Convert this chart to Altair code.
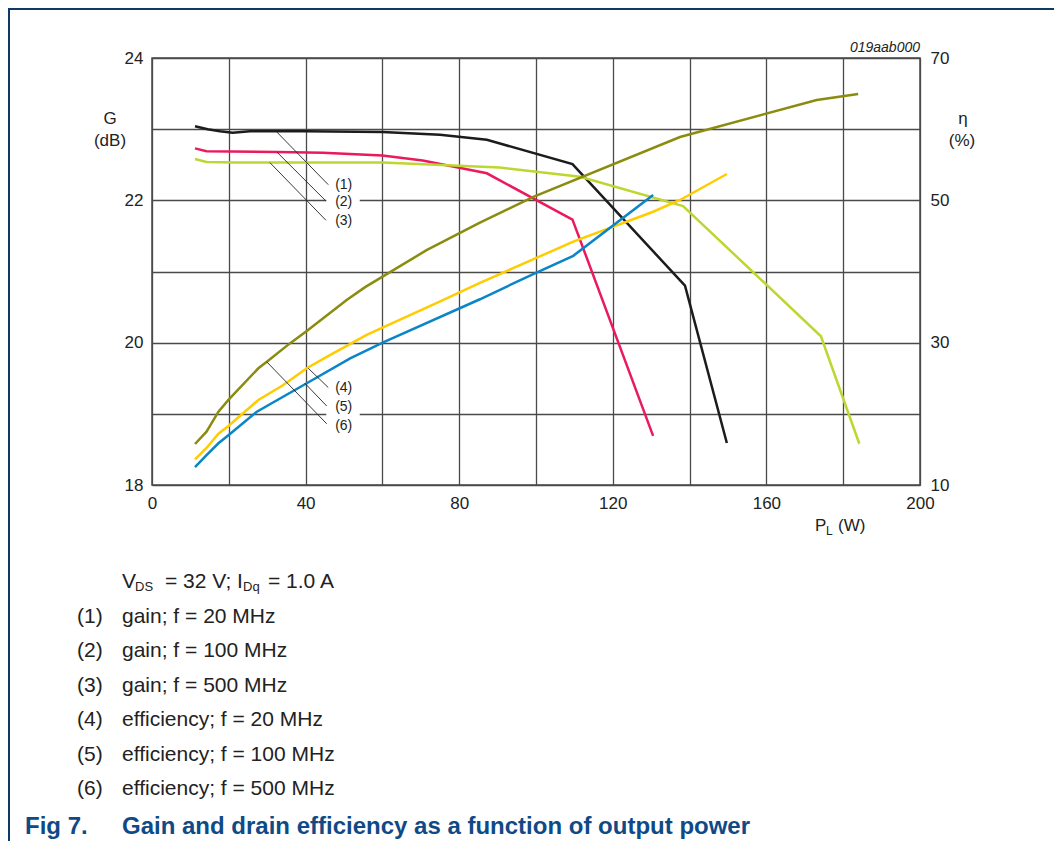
import altair as alt
import pandas as pd

FONT = "Liberation Sans"

# ---------------- data ----------------
series_names = ["gain 20 MHz", "gain 100 MHz", "gain 500 MHz",
                "eff 20 MHz", "eff 100 MHz", "eff 500 MHz"]
series_colors = ["#1c1c1c", "#ea1a5c", "#bfd630", "#ffcc00", "#0a85c8", "#8b8c0f"]

# gain curves: P_L (W) vs G (dB)
p_g20 = [11.2, 14.5, 17.7, 21, 25.5, 40, 60, 75, 87.2, 109.5, 138.8, 149.7]
g_g20 = [23.04, 23.0, 22.97, 22.95, 22.97, 22.97, 22.96, 22.92, 22.85, 22.51, 20.80, 18.59]
p_g100 = [11.2, 14.2, 32.5, 44.5, 60, 70.5, 87.2, 109.5, 130.5]
g_g100 = [22.73, 22.69, 22.68, 22.67, 22.63, 22.56, 22.38, 21.73, 18.69]
p_g500 = [11.2, 14.2, 22, 60, 90.6, 111.5, 138.3, 174.2, 184.2]
g_g500 = [22.58, 22.54, 22.53, 22.53, 22.46, 22.33, 21.92, 20.09, 18.58]

# efficiency curves: P_L (W) vs eta (%)
p_e20 = [11.2, 14.2, 17.3, 19.9, 27.7, 34.2, 40.3, 45.5, 55.9, 75.9, 85.4, 109.7, 130.5, 137.5, 149.7]
e_e20 = [13.6, 15.2, 17.2, 18.3, 21.95, 24.05, 26.4, 28.0, 31.1, 36.0, 38.4, 44.2, 48.4, 50.05, 53.7]
p_e100 = [11.2, 14.2, 17.3, 19.9, 27.3, 40.3, 51.6, 60.2, 85.4, 99.7, 109.7, 130.5]
e_e100 = [12.5, 14.2, 15.86, 17.0, 20.3, 24.3, 27.8, 30.05, 36.1, 39.75, 42.2, 50.75]
p_e500 = [11.2, 14.2, 17.3, 19.9, 27.7, 29.9, 35.9, 40.3, 50.7, 55.5, 71.5, 85.4, 99.3, 137.5, 173.1, 183.9]
e_e500 = [15.76, 17.5, 20.3, 21.95, 26.4, 27.33, 29.9, 31.64, 36.0, 37.8, 43.0, 46.86, 50.5, 58.9, 64.1, 64.95]

# curve labels with leader lines (in P, G units)
lead_labels = ["(1)", "(2)", "(3)", "(4)", "(5)", "(6)"]
lead_p1 = [32.5, 32.5, 30.7, 40.7, 39.8, 29.9]
lead_g1 = [22.96, 22.68, 22.53, 19.64, 19.43, 19.73]
lead_p2 = [45.9, 45.3, 45.3, 45.9, 45.5, 45.5]
lead_g2 = [22.22, 21.99, 21.72, 19.37, 19.11, 18.86]
label_p = [47.7] * 6
label_g = [22.22, 21.98, 21.71, 19.36, 19.10, 18.83]

# ticks
x_ticks = list(range(0, 201, 20))
g_ticks = [18, 19, 20, 21, 22, 23, 24]
eta_ticks = [10, 30, 50, 70]

note_nums = ["(1)", "(2)", "(3)", "(4)", "(5)", "(6)"]
note_texts = ["gain; f = 20 MHz", "gain; f = 100 MHz", "gain; f = 500 MHz",
              "efficiency; f = 20 MHz", "efficiency; f = 100 MHz", "efficiency; f = 500 MHz"]

# ---------------- tables ----------------
def make_df(name, p, v):
    return pd.DataFrame({"P": p, "v": v, "s": name, "i": range(len(p))})

gain_df = pd.concat([make_df(series_names[0], p_g20, g_g20),
                     make_df(series_names[1], p_g100, g_g100),
                     make_df(series_names[2], p_g500, g_g500)])
eff_df = pd.concat([make_df(series_names[3], p_e20, e_e20),
                    make_df(series_names[4], p_e100, e_e100),
                    make_df(series_names[5], p_e500, e_e500)])
lead_df = pd.DataFrame({"P1": lead_p1, "G1": lead_g1, "P2": lead_p2, "G2": lead_g2})
lab_df = pd.DataFrame({"P": label_p, "G": label_g, "t": lead_labels})
box_df = pd.DataFrame({"x1": [45.4, 45.4], "x2": [54.1, 54.1],
                       "y1": [21.60, 18.73], "y2": [22.31, 19.46]})

xs = alt.Scale(domain=[0, 200], nice=False, zero=False)
gs = alt.Scale(domain=[18, 24], nice=False, zero=False)
es = alt.Scale(domain=[10, 70], nice=False, zero=False)
cs = alt.Scale(domain=series_names, range=series_colors)

x_axis = alt.Axis(values=x_ticks, labelExpr="datum.value % 40 == 0 ? datum.label : ''",
                  title=None, grid=True, ticks=False, domain=False, labelPadding=10,
                  orient="bottom", labelFlush=False, labelOverlap=False)
g_axis = alt.Axis(values=g_ticks, labelExpr="datum.value % 2 == 0 ? datum.label : ''",
                  title=None, grid=True, ticks=False, domain=False, labelPadding=9,
                  orient="left", labelFlush=False, labelOverlap=False)
e_axis = alt.Axis(values=eta_ticks, title=None, grid=False, ticks=False, domain=False,
                  labelPadding=10, orient="right", labelFlush=False, labelOverlap=False)

boxes = alt.Chart(box_df).mark_rect(color="white").encode(
    x=alt.X("x1:Q", scale=xs, axis=None), x2="x2:Q",
    y=alt.Y("y1:Q", scale=gs, axis=None), y2="y2:Q",
)
gain_lines = alt.Chart(gain_df).mark_line(strokeWidth=2.5).encode(
    x=alt.X("P:Q", scale=xs, axis=x_axis),
    y=alt.Y("v:Q", scale=gs, axis=g_axis),
    color=alt.Color("s:N", scale=cs, legend=None),
    order="i:Q",
)
eff_lines = alt.Chart(eff_df).mark_line(strokeWidth=2.5).encode(
    x=alt.X("P:Q", scale=xs, axis=None),
    y=alt.Y("v:Q", scale=es, axis=e_axis),
    color=alt.Color("s:N", scale=cs, legend=None),
    order="i:Q",
)
leaders = alt.Chart(lead_df).mark_rule(color="#222222", strokeWidth=0.9).encode(
    x=alt.X("P1:Q", scale=xs, axis=None), x2="P2:Q",
    y=alt.Y("G1:Q", scale=gs, axis=None), y2="G2:Q",
)
labels = alt.Chart(lab_df).mark_text(align="left", baseline="middle", font=FONT,
                                     fontSize=14, color="#222222").encode(
    x=alt.X("P:Q", scale=xs, axis=None),
    y=alt.Y("G:Q", scale=gs, axis=None),
    text="t:N",
)

# ---------------- free text (page pixel positions -> plot-relative) ----------------
one = pd.DataFrame({"a": [0]})
OX, OY = 152, 58


def txt(s, px, py, size=16, align="left", baseline="alphabetic", **kw):
    color = kw.pop("color", "#222222")
    return alt.Chart(one).mark_text(text=s, font=FONT, fontSize=size, align=align,
                                    baseline=baseline, color=color, **kw).encode(
        x=alt.value(px - OX), y=alt.value(py - OY))


def rule(x1, y1, x2, y2, color="#0d3a66", w=2):
    return alt.Chart(one).mark_rule(color=color, strokeWidth=w).encode(
        x=alt.value(x1 - OX), x2=alt.value(x2 - OX),
        y=alt.value(y1 - OY), y2=alt.value(y2 - OY))


CAP = "#0f4a86"
texts = [
    txt("G", 110, 119, size=17, align="center", baseline="middle"),
    txt("(dB)", 110, 141, size=17, align="center", baseline="middle"),
    txt("η", 963, 119, size=17, align="center", baseline="middle"),
    txt("(%)", 962, 141, size=17, align="center", baseline="middle"),
    txt("P", 815, 531, size=17),
    txt("L", 826, 535, size=12),
    txt("(W)", 838, 531, size=17),
    txt("019aab000", 920, 52, size=14, align="right", fontStyle="italic"),
    # conditions line
    txt("V", 122, 588, size=21),
    txt("DS", 135, 591, size=13),
    txt("= 32 V;", 165, 588, size=21),
    txt("I", 237, 588, size=21),
    txt("Dq", 243, 591, size=13),
    txt("= 1.0 A", 268, 588, size=21),
    txt("Fig 7.", 25, 834, size=24, fontWeight="bold", color=CAP),
    txt("Gain and drain efficiency as a function of output power", 122, 834, size=24,
        fontWeight="bold", color=CAP),
]
for k, (n, t) in enumerate(zip(note_nums, note_texts)):
    base = 622.5 + 34.5 * k
    texts.append(txt(n, 77, base, size=21))
    texts.append(txt(t, 122, base, size=21))

frame = [rule(8, 9, 1054, 9), rule(9, 9, 9, 841)]

chart = alt.layer(boxes, gain_lines, eff_lines, leaders, labels, *texts, *frame).resolve_scale(
    x="independent", y="independent"
).properties(
    width=768, height=427,
    padding={"left": 144, "top": 50, "right": 134, "bottom": 356},
    autosize=alt.AutoSizeParams(type="none"),
    background="white",
).configure_axis(
    labelFont=FONT, labelFontSize=17, labelColor="#222222",
    gridColor="#4a4a4a", gridWidth=1.3, gridOpacity=1,
).configure_view(
    stroke="#4a4a4a", strokeWidth=1.5,
)

chart.save("out.html", embed_options={"renderer": "svg", "actions": False})
